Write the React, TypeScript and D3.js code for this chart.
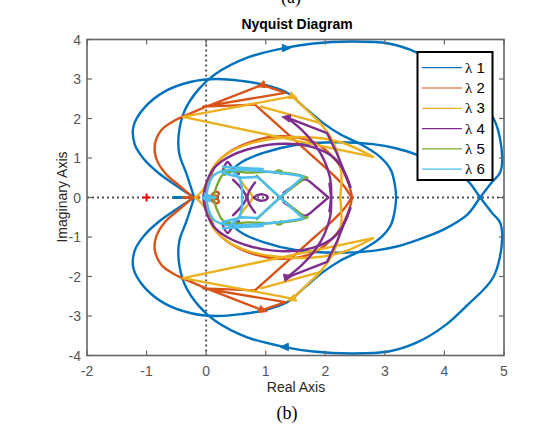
import React from 'react';
import * as d3 from 'd3';

type P = [number, number];

const X_TICKS = [-2, -1, 0, 1, 2, 3, 4, 5];
const Y_TICKS = [-4, -3, -2, -1, 0, 1, 2, 3, 4];
const LEGEND_LABELS = ['1', '2', '3', '4', '5', '6'];
const CRITICAL_POINT: P = [-1, 0];

// Upper (positive-frequency) branches; the conjugate branch is drawn mirrored.
const L1_ARCS: P[][] = [
  [[-0.2, 0], [-0.5, 0.3], [-0.8, 0.62], [-1.05, 0.98], [-1.2, 1.35], [-1.22, 1.8], [-1.05, 2.25], [-0.7, 2.68], [-0.25, 2.93], [0.17, 3.0], [0.6, 2.95], [0.96, 2.86], [1.36, 2.65], [1.66, 2.27], [1.96, 1.89], [2.25, 1.6], [2.58, 1.36], [2.92, 1.03], [3.1, 0.7], [3.17, 0.3], [3.19, 0]],
  [[-0.2, 0], [-0.33, 0.6], [-0.45, 1.1], [-0.46, 1.6], [-0.36, 2.2], [-0.12, 2.75], [0.15, 3.12], [0.69, 3.54], [1.3, 3.78], [1.8, 3.9], [2.43, 3.95], [3.06, 3.9], [3.54, 3.67], [4.0, 3.25], [4.38, 2.73], [4.82, 2.02], [4.97, 1.03], [4.93, 0.62], [4.8, 0.39], [4.6, 0], [4.38, -0.44], [4.0, -0.8], [3.54, -1.08], [3.2, -1.24], [2.8, -1.35], [2.2, -1.4], [1.5, -1.33], [0.96, -1.13], [0.6, -0.9], [0.38, -0.62]],
];
const L1_LINES: P[][] = [[[-0.55, 0], [-0.22, 0]]];
const L1_ARROWS = [[1.33, 3.78, 1, -0.02]];

const L2_ARCS: P[][] = [
  [[-0.22, 0], [-0.45, 0.3], [-0.69, 0.62], [-0.84, 1.0], [-0.86, 1.35], [-0.75, 1.71], [-0.55, 1.93], [-0.4, 2.04]],
  [[-0.05, 0], [0.02, 0.25], [0.18, 0.87], [0.57, 1.3], [1.24, 1.55], [1.8, 1.4], [2.2, 0.9], [2.38, 0.4], [2.45, 0]],
  [[1.8, 1.03], [2.1, 0.62], [2.32, 0.28], [2.44, 0]],
  [[0.08, 0], [0.1, 0.08], [0.15, 0.14], [0.21, 0.12], [0.2, 0.05], [0.14, 0.03], [0.15, 0]],
];
const L2_LINES: P[][] = [
  [[-0.4, 2.04], [-0.05, 2.27], [0.94, 2.85], [1.33, 2.65], [-0.05, 2.3], [0.82, 2.35], [1.8, 1.03]],
  [[-0.38, 0], [-0.12, 0]],
];
const L2_ARROWS = [[0.94, 2.85, -1, -0.5]];

const L3_ARCS: P[][] = [
  [[-0.18, 0], [-0.05, 0.2], [0.05, 0.5], [0.12, 0.77], [0.35, 1.1], [0.7, 1.35], [1.2, 1.5], [1.8, 1.52], [2.3, 1.38], [2.8, 1.03]],
  [[1.45, 2.56], [1.7, 2.2], [1.91, 1.89], [2.1, 1.5], [2.2, 1.15], [2.27, 0.62], [2.25, 0]],
  [[0.55, 0.5], [0.65, 0.28], [0.75, 0.1], [0.78, 0]],
];
const L3_LINES: P[][] = [
  [[2.8, 1.03], [-0.39, 2.04], [1.45, 2.56]],
  [[0.92, 2.3], [1.91, 1.89]],
];
const L3_ARROWS = [[1.45, 2.56, 1, -0.6]];

const L4_ARCS: P[][] = [
  [[-0.05, 0], [0.0, 0.35], [0.12, 0.72], [0.35, 1.0], [0.75, 1.24], [1.3, 1.36], [1.8, 1.27], [2.15, 1.0], [2.33, 0.62], [2.42, 0.27]],
  [[1.36, 2.02], [1.6, 1.72], [1.82, 1.35], [1.98, 0.95], [2.08, 0.5], [2.1, 0.1], [2.07, -0.35]],
  [[0.8, 0], [0.86, 0.06], [0.95, 0.08], [1.02, 0.04], [1.03, 0]],
  [[0.45, 0.45], [0.58, 0.25], [0.66, 0.08], [0.68, 0]],
  [[0.82, 0.38], [0.72, 0.15], [0.7, 0.05]],
  [[1.3, 0.12], [1.5, 0.32], [1.66, 0.46], [1.85, 0.26], [2.05, 0]],
  [[0.28, 0.7], [0.36, 0.9], [0.44, 0.75], [0.55, 0.6]],
];
const L4_LINES: P[][] = [[[2.42, 0.27], [2.2, 1.1], [2.03, 1.63], [1.36, 2.02]]];
const L4_ARROWS = [[1.36, 2.02, -1, 0.3]];

const L5_ARCS: P[][] = [
  [[0.12, 0], [0.18, 0.3], [0.28, 0.58], [0.4, 0.66], [0.7, 0.63], [1.0, 0.65], [1.3, 0.63], [1.55, 0.57], [1.7, 0.5]],
  [[1.15, 0.62], [1.2, 0.68], [1.27, 0.66], [1.25, 0.6]],
];
const L5_LINES: P[][] = [[[0.85, 0.55], [1.24, 0], [1.65, -0.5]]];
const L5_ARROWS = [[0.35, 0.64, 1, 0]];

const L6_ARCS: P[][] = [
  [[0.0, 0], [0.04, 0.3], [0.12, 0.55], [0.3, 0.68], [0.6, 0.7], [1.0, 0.66], [1.35, 0.6], [1.63, 0.53]],
  [[0.4, 0.7], [0.55, 0.5], [0.6, 0.25], [0.6, 0]],
];
const L6_LINES: P[][] = [
  [[1.63, 0.53], [1.24, 0], [0.86, -0.52]],
  [[0.28, 0.78], [0.95, 0.72]],
  [[0.28, 0.62], [0.6, 0.5], [0.86, 0.52]],
  [[-0.05, 0], [0.15, 0]],
];
const L6_ARROWS = [[0.02, 0.02, 1, 0]];

const COLORS = ['#0072BD', '#D95319', '#EDB120', '#7E2F8E', '#77AC30', '#4DBEEE'];

const SERIES = [
  { arcs: L1_ARCS, lines: L1_LINES, arrows: L1_ARROWS },
  { arcs: L2_ARCS, lines: L2_LINES, arrows: L2_ARROWS },
  { arcs: L3_ARCS, lines: L3_LINES, arrows: L3_ARROWS },
  { arcs: L4_ARCS, lines: L4_LINES, arrows: L4_ARROWS },
  { arcs: L5_ARCS, lines: L5_LINES, arrows: L5_ARROWS },
  { arcs: L6_ARCS, lines: L6_LINES, arrows: L6_ARROWS },
];

const W = 539;
const H = 427;
const LEFT = 87;
const RIGHT = 504;
const TOP = 39.5;
const BOTTOM = 355.5;

const mirror = (seg: P[]): P[] => seg.map(([re, im]) => [re, -im] as P);

export default function App() {
  const x = d3.scaleLinear().domain([-2, 5]).range([LEFT, RIGHT]);
  const y = d3.scaleLinear().domain([-4, 4]).range([BOTTOM, TOP]);
  const smooth = d3.line<P>().x(d => x(d[0])).y(d => y(d[1])).curve(d3.curveCatmullRom.alpha(0.5));
  const straight = d3.line<P>().x(d => x(d[0])).y(d => y(d[1]));

  const arrowPath = (re: number, im: number, dr: number, di: number) => {
    const px = x(re), py = y(im);
    const qx = x(re + dr * 0.01), qy = y(im + di * 0.01);
    const a = Math.atan2(qy - py, qx - px);
    const c = Math.cos(a), s = Math.sin(a);
    const tip = [px + 5 * c, py + 5 * s];
    const b1 = [px - 3 * c - 3.5 * s, py - 3 * s + 3.5 * c];
    const b2 = [px - 3 * c + 3.5 * s, py - 3 * s - 3.5 * c];
    return `M${tip[0]},${tip[1]}L${b1[0]},${b1[1]}L${b2[0]},${b2[1]}Z`;
  };

  const legendRows = LEGEND_LABELS.map((_, i) => 67.7 + i * 20.3);

  return (
    <svg width={W} height={H} style={{ position: 'absolute', left: 0, top: 0 }} fontFamily="'Liberation Sans', Arial, sans-serif">
      <rect x={0} y={0} width={W} height={H} fill="#fff" />
      <defs>
        <clipPath id="plotclip">
          <rect x={LEFT} y={TOP} width={RIGHT - LEFT} height={BOTTOM - TOP} />
        </clipPath>
      </defs>
      <text x={291} y={3} textAnchor="middle" fontFamily="'Liberation Serif', 'Times New Roman', serif" fontSize={18}>(a)</text>
      <text x={297} y={29} textAnchor="middle" fontWeight="bold" fontSize={14} fill="#000">Nyquist Diagram</text>

      <g clipPath="url(#plotclip)">
        <line x1={LEFT} x2={RIGHT} y1={y(0)} y2={y(0)} stroke="#555" strokeWidth={2} strokeDasharray="2 3" />
        <line x1={x(0)} x2={x(0)} y1={TOP} y2={BOTTOM} stroke="#555" strokeWidth={2} strokeDasharray="2 3" />
        {SERIES.map((s, i) => (
          <g key={i} stroke={COLORS[i]} fill="none" strokeWidth={2.4} strokeLinejoin="round" strokeLinecap="round">
            {s.arcs.map((seg, j) => (
              <g key={'a' + j}>
                <path d={smooth(seg) || ''} />
                <path d={smooth(mirror(seg)) || ''} />
              </g>
            ))}
            {s.lines.map((seg, j) => (
              <g key={'l' + j}>
                <path d={straight(seg) || ''} />
                <path d={straight(mirror(seg)) || ''} />
              </g>
            ))}
            {s.arrows.map((a, j) => (
              <g key={'r' + j} fill={COLORS[i]} strokeWidth={1}>
                <path d={arrowPath(a[0], a[1], a[2], a[3])} />
                <path d={arrowPath(a[0], -a[1], -a[2], a[3])} />
              </g>
            ))}
          </g>
        ))}
        <g stroke="#FF0000" strokeWidth={2}>
          <line x1={x(CRITICAL_POINT[0]) - 4} x2={x(CRITICAL_POINT[0]) + 4} y1={y(CRITICAL_POINT[1])} y2={y(CRITICAL_POINT[1])} />
          <line x1={x(CRITICAL_POINT[0])} x2={x(CRITICAL_POINT[0])} y1={y(CRITICAL_POINT[1]) - 4} y2={y(CRITICAL_POINT[1]) + 4} />
        </g>
      </g>

      <rect x={LEFT} y={TOP} width={RIGHT - LEFT} height={BOTTOM - TOP} fill="none" stroke="#666" strokeWidth={1.6} />
      <g stroke="#666" strokeWidth={1.2}>
        {X_TICKS.map(t => (
          <g key={'xt' + t}>
            <line x1={x(t)} x2={x(t)} y1={BOTTOM} y2={BOTTOM - 5} />
            <line x1={x(t)} x2={x(t)} y1={TOP} y2={TOP + 5} />
          </g>
        ))}
        {Y_TICKS.map(t => (
          <g key={'yt' + t}>
            <line x1={LEFT} x2={LEFT + 5} y1={y(t)} y2={y(t)} />
            <line x1={RIGHT} x2={RIGHT - 5} y1={y(t)} y2={y(t)} />
          </g>
        ))}
      </g>
      <g fill="#555" fontSize={14}>
        {X_TICKS.map(t => (
          <text key={'xl' + t} x={x(t)} y={376} textAnchor="middle">{String(t)}</text>
        ))}
        {Y_TICKS.map(t => (
          <text key={'yl' + t} x={81} y={y(t) + 5} textAnchor="end">{String(t)}</text>
        ))}
      </g>
      <text x={296} y={392} textAnchor="middle" fontSize={14} fill="#262626">Real Axis</text>
      <text transform="translate(67,197) rotate(-90)" textAnchor="middle" fontSize={14} fill="#262626">Imaginary Axis</text>

      <rect x={417.5} y={52} width={75} height={128} fill="#fff" stroke="#000" strokeWidth={2} />
      {LEGEND_LABELS.map((lab, i) => (
        <g key={'lg' + i}>
          <line x1={422} x2={462} y1={legendRows[i]} y2={legendRows[i]} stroke={COLORS[i]} strokeWidth={1.2} />
          <text x={465} y={legendRows[i] + 5} fontSize={15} fill="#000">
            <tspan fontFamily="'Liberation Serif', 'Times New Roman', serif">λ</tspan>
            <tspan> {lab}</tspan>
          </text>
        </g>
      ))}

      <text x={287} y={419} textAnchor="middle" fontFamily="'Liberation Serif', 'Times New Roman', serif" fontSize={18}>(b)</text>
    </svg>
  );
}
